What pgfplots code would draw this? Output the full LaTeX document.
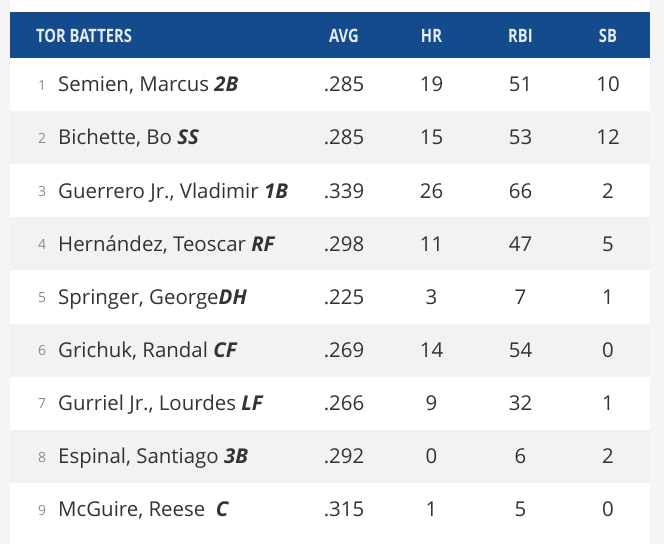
\documentclass[border=0pt]{standalone}
\usepackage{pgfplots}
\usepackage{pgfplotstable}
\pgfplotsset{compat=1.18}
\usepackage{fontspec}
\setmainfont{Open Sans}
\newfontfamily\headfont[FakeStretch=0.8]{Open Sans}

\definecolor{hdrblue}{HTML}{134B8C}
\definecolor{hdrtext}{HTML}{E4EBF3}
\definecolor{rowgray}{HTML}{F2F2F2}
\definecolor{sidegray}{HTML}{F5F5F5}
\definecolor{bodytext}{HTML}{333333}
\definecolor{ranktext}{HTML}{8C8C8C}

\newcommand{\pos}[1]{\textbf{\textit{#1}}}

% row y positions are pixel rows of the reference, y grows downwards
\pgfplotstableread[col sep=semicolon]{
rk;player;avg;hr;rbi;sb
1;Semien, Marcus \pos{2B};.285;19;51;10
2;Bichette, Bo \pos{SS};.285;15;53;12
3;Guerrero Jr., Vladimir \pos{1B};.339;26;66;2
4;Hernández, Teoscar \pos{RF};.298;11;47;5
5;Springer, George\pos{DH};.225;3;7;1
6;Grichuk, Randal \pos{CF};.269;14;54;0
7;Gurriel Jr., Lourdes \pos{LF};.266;9;32;1
8;Espinal, Santiago \pos{3B};.292;0;6;2
9;McGuire, Reese\ \ \pos{C};.315;1;5;0
}\batters

\pgfplotstableread{
x y lab
344 42.5 AVG
431.5 42.5 HR
520.5 42.5 RBI
608 42.5 SB
}\header

\begin{document}
\begin{tikzpicture}
\begin{axis}[
    width=664bp, height=544bp,
    scale only axis,
    hide axis,
    xmin=0, xmax=664,
    ymin=0, ymax=544,
    y dir=reverse,
    clip=false,
]
% backgrounds
\addplot[fill=sidegray, draw=none] coordinates {(0,0) (664,0) (664,544) (0,544)} -- cycle;
\addplot[fill=white, draw=none] coordinates {(10,0) (650,0) (650,544) (10,544)} -- cycle;
\addplot[fill=hdrblue, draw=none] coordinates {(10,12) (650,12) (650,58) (10,58)} -- cycle;
\addplot[fill=rowgray, draw=none] coordinates {(10,111.1) (650,111.1) (650,164.2) (10,164.2)} -- cycle;
\addplot[fill=rowgray, draw=none] coordinates {(10,217.3) (650,217.3) (650,270.4) (10,270.4)} -- cycle;
\addplot[fill=rowgray, draw=none] coordinates {(10,323.5) (650,323.5) (650,376.6) (10,376.6)} -- cycle;
\addplot[fill=rowgray, draw=none] coordinates {(10,429.7) (650,429.7) (650,482.8) (10,482.8)} -- cycle;

% header labels
\addplot[draw=none, mark=none, point meta=explicit symbolic,
    nodes near coords={\pgfplotspointmeta},
    nodes near coords style={anchor=base west, inner sep=0pt, text=hdrtext,
        font=\headfont\bfseries\fontsize{18.5}{21}\selectfont}]
    coordinates {(36,42.5) [TOR BATTERS]};
\addplot[draw=none, mark=none, point meta=explicit symbolic,
    nodes near coords={\pgfplotspointmeta},
    nodes near coords style={anchor=base, inner sep=0pt, text=hdrtext,
        font=\headfont\bfseries\fontsize{18.5}{21}\selectfont}]
    table[x=x, y=y, meta=lab] {\header};

% rank numbers
\addplot[draw=none, mark=none, point meta=explicit symbolic,
    nodes near coords={\pgfplotspointmeta},
    nodes near coords style={anchor=base, inner sep=0pt, text=ranktext,
        font=\fontsize{14}{16}\selectfont}]
    table[x expr=42, y expr=90.3+53.1*(\thisrow{rk}-1), meta=rk] {\batters};

% player names
\addplot[draw=none, mark=none, point meta=explicit symbolic,
    nodes near coords={\pgfplotspointmeta},
    nodes near coords style={anchor=base west, inner sep=0pt, text=bodytext,
        font=\fontsize{20.5}{24}\selectfont}]
    table[x expr=58, y expr=91.8+53.1*(\thisrow{rk}-1), meta=player] {\batters};

% stat columns
\addplot[draw=none, mark=none, point meta=explicit symbolic,
    nodes near coords={\pgfplotspointmeta},
    nodes near coords style={anchor=base, inner sep=0pt, text=bodytext,
        font=\fontsize{20.5}{24}\selectfont}]
    table[x expr=344, y expr=91.8+53.1*(\thisrow{rk}-1), meta=avg] {\batters};
\addplot[draw=none, mark=none, point meta=explicit symbolic,
    nodes near coords={\pgfplotspointmeta},
    nodes near coords style={anchor=base, inner sep=0pt, text=bodytext,
        font=\fontsize{20.5}{24}\selectfont}]
    table[x expr=431.5, y expr=91.8+53.1*(\thisrow{rk}-1), meta=hr] {\batters};
\addplot[draw=none, mark=none, point meta=explicit symbolic,
    nodes near coords={\pgfplotspointmeta},
    nodes near coords style={anchor=base, inner sep=0pt, text=bodytext,
        font=\fontsize{20.5}{24}\selectfont}]
    table[x expr=520.5, y expr=91.8+53.1*(\thisrow{rk}-1), meta=rbi] {\batters};
\addplot[draw=none, mark=none, point meta=explicit symbolic,
    nodes near coords={\pgfplotspointmeta},
    nodes near coords style={anchor=base, inner sep=0pt, text=bodytext,
        font=\fontsize{20.5}{24}\selectfont}]
    table[x expr=608, y expr=91.8+53.1*(\thisrow{rk}-1), meta=sb] {\batters};
\end{axis}
\end{tikzpicture}
\end{document}
